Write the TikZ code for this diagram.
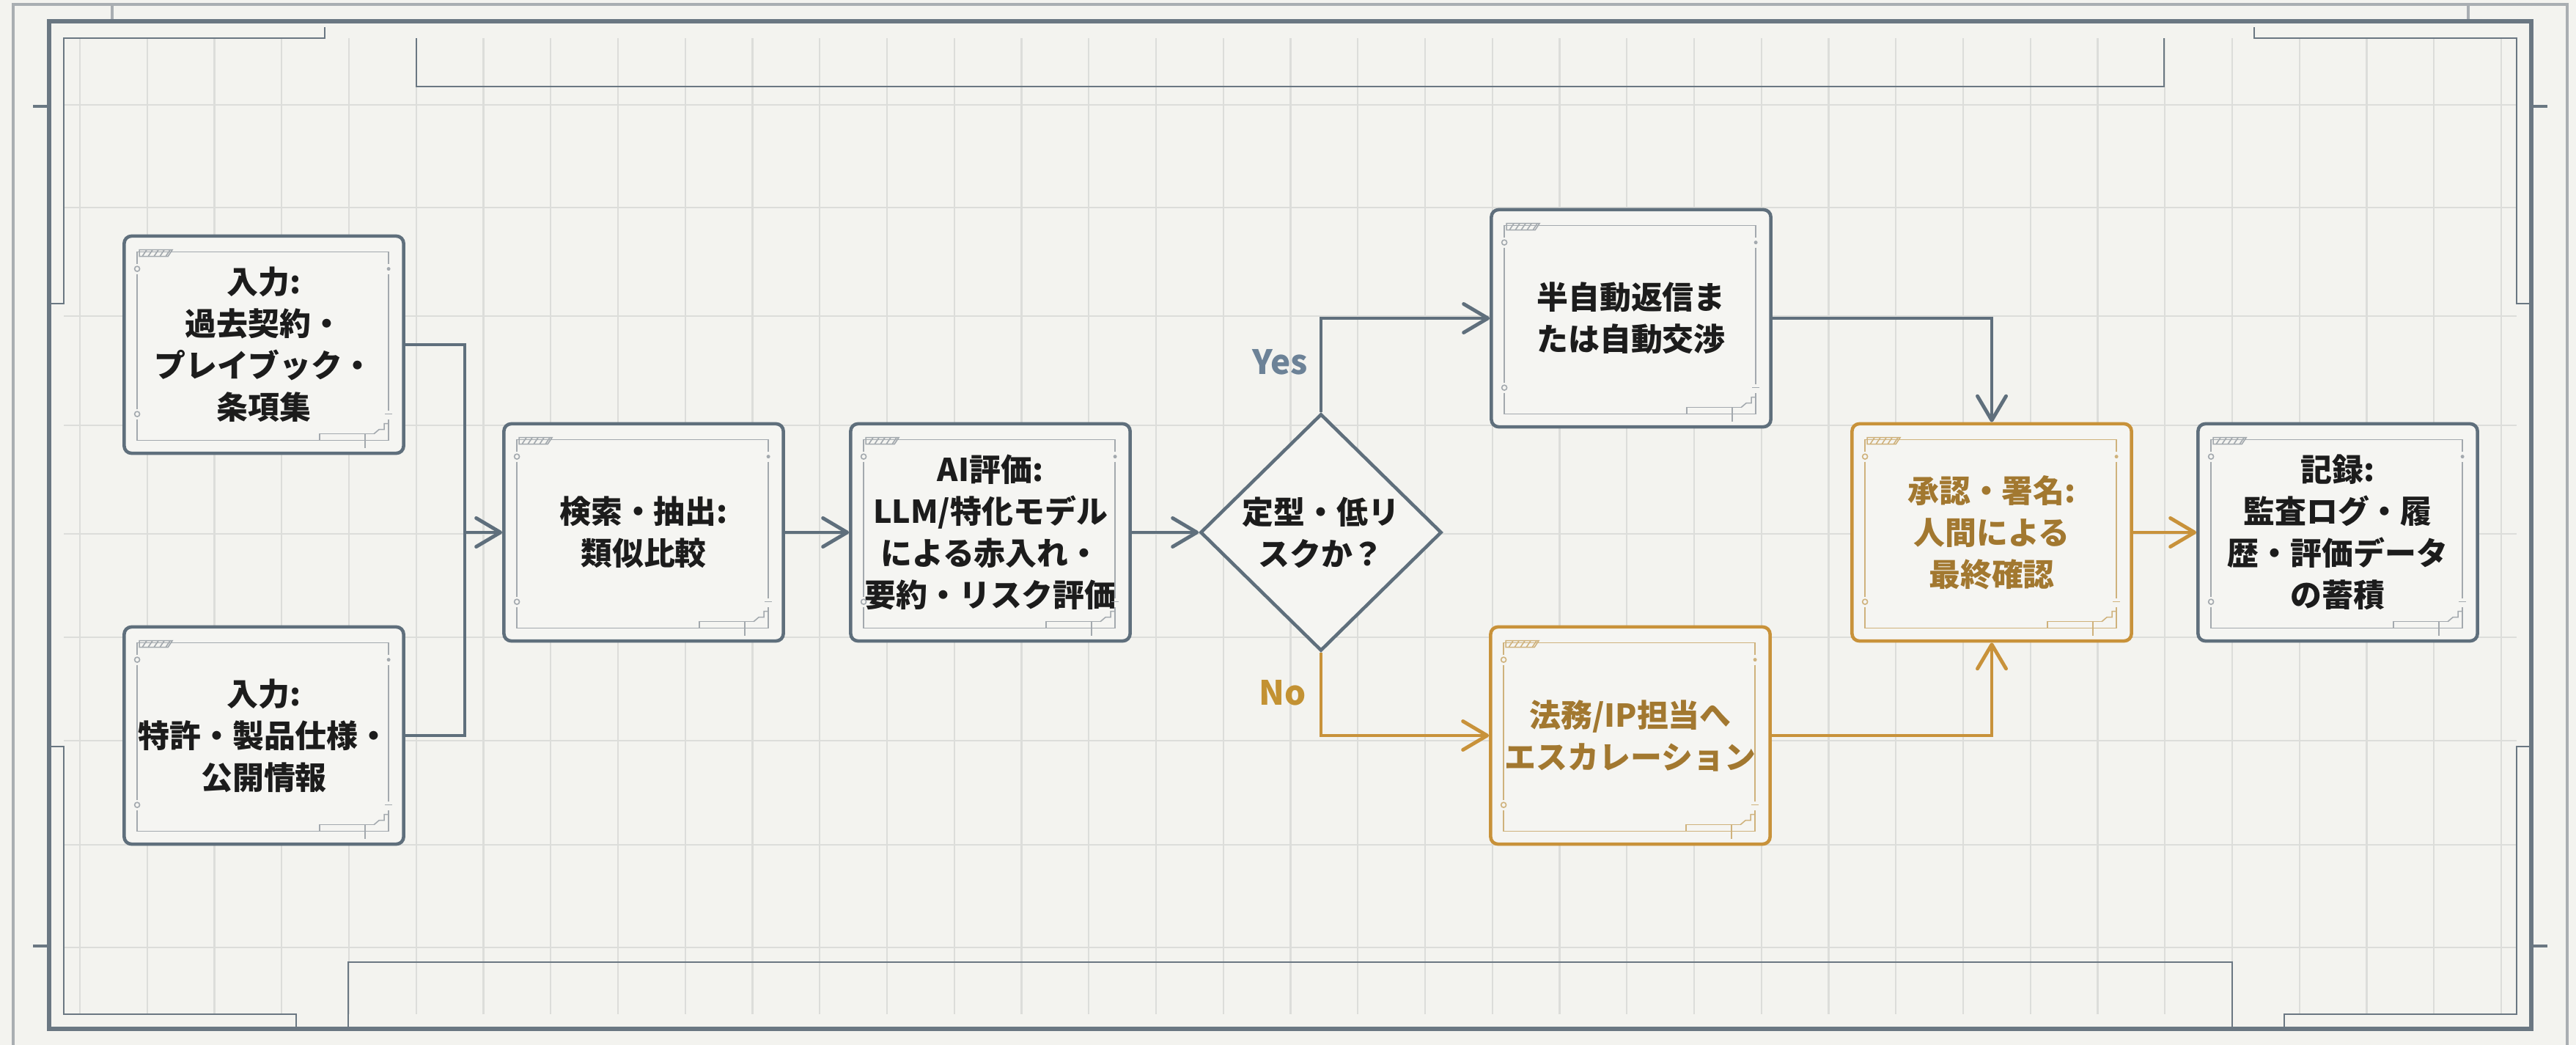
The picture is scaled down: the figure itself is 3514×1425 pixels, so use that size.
\documentclass[tikz,border=0pt]{standalone}
\usepackage{fontspec}
\setmainfont{Noto Sans CJK JP}
\usetikzlibrary{arrows.meta,calc,shapes.geometric}
\definecolor{bg}{HTML}{F3F3EF}
\definecolor{boxfill}{HTML}{F5F5F2}
\definecolor{gridc}{HTML}{DCDDDA}
\definecolor{slate}{HTML}{5F6F7C}
\definecolor{gold}{HTML}{C8923A}
\definecolor{goldtext}{HTML}{A27830}
\definecolor{txt}{HTML}{1C1C1C}
\definecolor{framec}{HTML}{6A7782}
\definecolor{framelight}{HTML}{A9AEB2}
\definecolor{deco}{HTML}{A3A9AE}
\definecolor{decogold}{HTML}{CFB27C}
\definecolor{yesc}{HTML}{6C8297}
\definecolor{noc}{HTML}{C39233}

\newcommand\boxdeco[2]{%
 \begin{scope}[shift={(#1.north west)}, #2, line width=0.45pt]
  \draw (20,40) -- (20,24) -- (363,24) -- (363,40);
  \draw (20,54) -- (20,238);
  \draw (20,252) -- (20,281) -- (363,281) -- (363,252);
  \draw (363,54) -- (363,240);
  \draw (20,47) circle[radius=3.5];
  \draw (20,245) circle[radius=3.5];
  \fill (363,47) circle[radius=2.5];
  \draw (358,245) -- (368,245);
  \draw (269,281) -- (269,272) -- (343,272);
  \draw (331,272) -- (331,291);
  \draw (343,272) -- (350,266) -- (357,266) -- (357,258) -- (363,258);
  \draw (23,30) -- (23,21) -- (68,21) -- (62,30) -- cycle;
  \foreach \i in {0,...,4} \draw (27+8*\i,30) -- (33+8*\i,21);
 \end{scope}}

\begin{document}
\begin{tikzpicture}[x=0.01cm,y=-0.01cm,
  box/.style={draw=slate, line width=1.3pt, rounded corners=1mm, fill=boxfill,
    minimum width=3.81cm, minimum height=2.96cm, align=center, inner sep=0pt,
    font=\fontsize{12.2}{16.2}\selectfont\bfseries, text=txt},
  goldbox/.style={box, draw=gold, text=goldtext},
  decision/.style={diamond, draw=slate, line width=1.3pt, fill=boxfill,
    minimum width=3.29cm, minimum height=3.23cm, inner sep=0pt, align=center,
    font=\fontsize{12.2}{16.2}\selectfont\bfseries, text=txt},
  line/.style={draw=slate, line width=1.4pt},
  conn/.style={line, -{Straight Barb[length=3.3mm,width=3.9mm,round]}},
  conng/.style={conn, draw=gold},
  lbl/.style={font=\fontsize{13}{15}\selectfont\bfseries}
]
\fill[bg] (0,0) rectangle (3514,1425);
\useasboundingbox (0,0) rectangle (3514,1425);

% grid
\begin{scope}
  \clip (87,52) rectangle (3433,1383);
  \foreach \k in {0,...,36} \draw[gridc, line width=0.6pt] ({109+91.75*\k},52) -- ({109+91.75*\k},1383);
  \foreach \yy in {143,283,431,580,728,869,1010,1152,1292} \draw[gridc, line width=0.6pt] (87,\yy) -- (3433,\yy);
\end{scope}

% frame
\draw[framelight, line width=1pt] (18,1425) -- (18,6) -- (3502,6) -- (3502,1425);
\draw[framelight, line width=1pt] (153,6) -- (153,29) (3367,6) -- (3367,29);
\draw[framec, line width=1.6pt] (67,29) rectangle (3453,1403);
\draw[framec, line width=0.8pt] (67,414) -- (87,414) -- (87,52) -- (443,52) -- (443,37);
\draw[framec, line width=0.8pt] (67,1018) -- (87,1018) -- (87,1383) -- (404,1383) -- (404,1403);
\draw[framec, line width=0.8pt] (3453,414) -- (3433,414) -- (3433,52) -- (3075,52) -- (3075,37);
\draw[framec, line width=0.8pt] (3453,1018) -- (3433,1018) -- (3433,1383) -- (3116,1383) -- (3116,1403);
\draw[framec, line width=0.8pt] (568,52) -- (568,118) -- (2952,118) -- (2952,52);
\draw[framec, line width=0.8pt] (475,1403) -- (475,1312) -- (3045,1312) -- (3045,1403);
\draw[framec, line width=1.4pt] (45,145) -- (67,145) (45,1290) -- (67,1290) (3453,145) -- (3475,145) (3453,1290) -- (3475,1290);

% nodes
\node[box] (in1) at (360,470) {入力:\\過去契約・\\プレイブック・\\条項集};
\node[box] (in2) at (360,1003) {入力:\\特許・製品仕様・\\公開情報};
\node[box] (search) at (878,726) {検索・抽出:\\類似比較};
\node[box] (ai) at (1351,726) {AI評価:\\LLM/特化モデル\\による赤入れ・\\要約・リスク評価};
\node[decision] (dec) at (1802,726) {定型・低リ\\スクか？};
\node[box] (semi) at (2225,434) {半自動返信ま\\たは自動交渉};
\node[goldbox] (esc) at (2224,1003) {法務/IP担当へ\\エスカレーション};
\node[goldbox] (appr) at (2717,726) {承認・署名:\\人間による\\最終確認};
\node[box] (rec) at (3189,726) {記録:\\監査ログ・履\\歴・評価データ\\の蓄積};

\boxdeco{in1}{deco}
\boxdeco{in2}{deco}
\boxdeco{search}{deco}
\boxdeco{ai}{deco}
\boxdeco{semi}{deco}
\boxdeco{esc}{decogold}
\boxdeco{appr}{decogold}
\boxdeco{rec}{deco}

% connectors
\coordinate (mj) at (634,726);
\draw[line] (in1.east) -| (mj);
\draw[line] (in2.east) -| (mj);
\draw[conn] (mj) -- (search.west);
\draw[conn] (search.east) -- (ai.west);
\draw[conn] (ai.east) -- (dec.west);
\draw[conn] (dec.north) |- (semi.west);
\draw[conng] (dec.south) |- (esc.west);
\draw[conn] (semi.east) -| (appr.north);
\draw[conng] (esc.east) -| (appr.south);
\draw[conng] (appr.east) -- (rec.west);

\node[lbl, text=yesc] (yes) at (1746,494) {Yes};
\node[lbl, text=noc] (no) at (1750,945) {No};
\end{tikzpicture}
\end{document}
